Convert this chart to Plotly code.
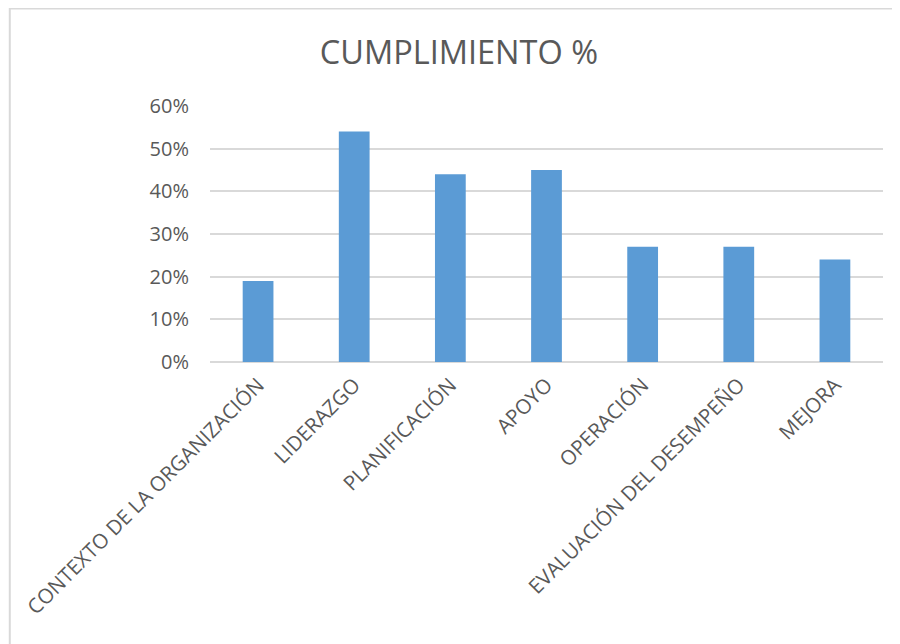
import plotly.graph_objects as go

categories = ["CONTEXTO DE LA ORGANIZACIÓN", "LIDERAZGO", "PLANIFICACIÓN", "APOYO",
              "OPERACIÓN", "EVALUACIÓN DEL DESEMPEÑO", "MEJORA"]
cumplimiento = [0.19, 0.54, 0.44, 0.45, 0.27, 0.27, 0.24]
y_ticks = [0, 0.1, 0.2, 0.3, 0.4, 0.5, 0.6]
y_tick_labels = ["0%", "10%", "20%", "30%", "40%", "50%", "60%"]

txt = "#595959"
fnt = "Open Sans, DejaVu Sans, sans-serif"

fig = go.Figure(go.Bar(x=categories, y=cumplimiento, marker=dict(color="#5B9BD5", line=dict(width=0))))

fig.update_layout(
    width=900, height=644,
    paper_bgcolor="white", plot_bgcolor="white",
    margin=dict(l=202, r=25, t=98, b=290, autoexpand=False),
    bargap=0.68,
    showlegend=False,
    title=dict(text="CUMPLIMIENTO %", x=0.501, xanchor="center", y=0.93, yanchor="middle",
               font=dict(family=fnt, size=32.5, color=txt)),
    font=dict(family=fnt, color=txt),
)
fig.update_xaxes(tickangle=-45, tickfont=dict(size=20.5, color=txt), showgrid=False,
                 showline=False, ticks="", zeroline=False, automargin=False,
                 ticklabelstandoff=6)
fig.update_yaxes(range=[0, 0.6], tickvals=y_ticks, ticktext=y_tick_labels,
                 tickfont=dict(size=20, color=txt), showgrid=True, gridcolor="#D9D9D9",
                 gridwidth=1.5, zeroline=True, zerolinecolor="#D9D9D9", zerolinewidth=1.5,
                 showline=False, ticks="", ticklabelstandoff=20, automargin=False)
fig.add_shape(type="rect", xref="paper", yref="paper", x0=-0.2975, x1=1.04, y0=-1.13, y1=1.381,
              line=dict(color="#D9D9D9", width=2), fillcolor="rgba(0,0,0,0)", layer="below")
fig.write_html("out.html")
